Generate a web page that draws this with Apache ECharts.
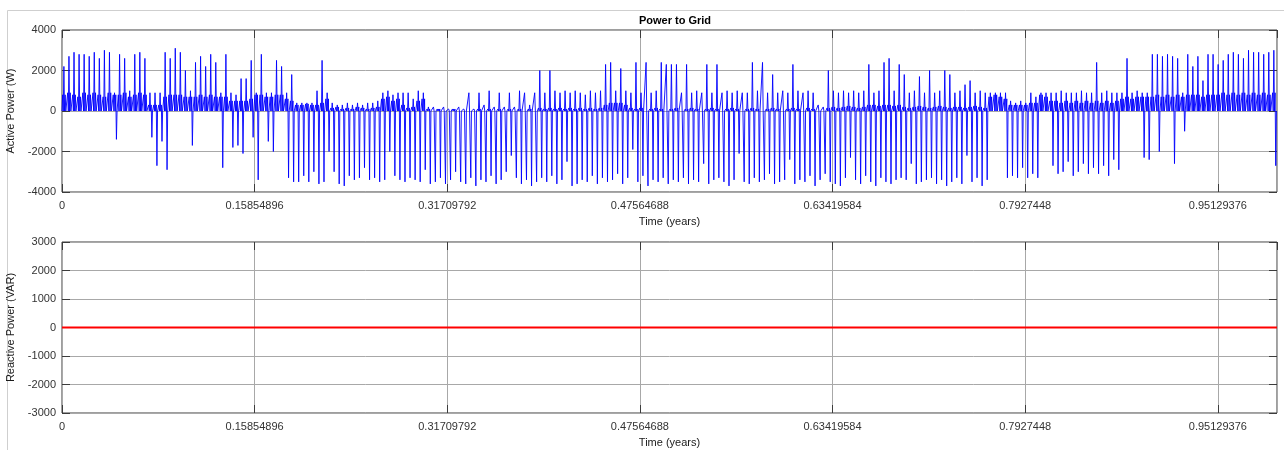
<!DOCTYPE html>
<html>
<head>
<meta charset="utf-8" />
<title>Power to Grid</title>
<script src="https://cdn.jsdelivr.net/npm/echarts@6/dist/echarts.min.js"></script>
<style>
  html, body { margin: 0; padding: 0; background: #fff; }
  #main { width: 1284px; height: 450px; }
</style>
</head>
<body>
<div id="main"></div>
<script>
    // active power in blocks of 1/240 year (about 1.5 days)
    // bandLevel = the dense everyday level, peakLevel = tallest spike, dipLevel = deepest import
    var bandLevel = [
        800, 900, 800, 700, 900, 800, 900, 800, 700, 900,
        800, 800, 900, 700, 800, 900, 800, 300, 300, 300,
        700, 800, 800, 800, 700, 700, 700, 800, 700, 800,
        700, 700, 700, 500, 500, 500, 500, 600, 800, 800,
        700, 700, 800, 800, 600, 500, 300, 300, 350, 300,
        300, 400, 600, 150, 200, 100, 150, 100, 200, 150,
        100, 150, 200, 600, 700, 500, 600, 300, 150, 200,
        500, 600, 100, 50, 100, 50, 50, 100, 50, 50,
        50, 50, 100, 50, 100, 50, 100, 50, 100, 50,
        100, 50, 100, 50, 150, 100, 150, 100, 150, 100,
        150, 100, 150, 100, 150, 100, 150, 300, 400, 400,
        400, 300, 150, 100, 150, 50, 100, 150, 100, 50,
        100, 150, 50, 100, 150, 100, 50, 100, 150, 100,
        50, 100, 150, 100, 50, 100, 150, 100, 50, 100,
        150, 100, 50, 100, 150, 100, 50, 150, 100, 50,
        50, 150, 200, 150, 200, 250, 200, 150, 200, 300,
        300, 250, 300, 300, 250, 300, 200, 150, 200, 250,
        200, 150, 200, 250, 200, 150, 200, 200, 150, 200,
        250, 200, 150, 700, 800, 700, 600, 300, 300, 300,
        300, 400, 400, 800, 700, 500, 500, 400, 500, 400,
        500, 400, 500, 400, 500, 400, 500, 400, 500, 600,
        700, 600, 700, 700, 700, 700, 800, 700, 800, 700,
        800, 700, 800, 800, 800, 700, 800, 800, 800, 900,
        800, 900, 800, 900, 800, 900, 800, 900, 800, 900
    ];

    var peakLevel = [
        2200, 2700, 2900, 2800, 2800, 2700, 2900, 2600, 3000, 2900,
        900, 2800, 2600, 1000, 2800, 2900, 2600, 900, 900, 900,
        2900, 2600, 3100, 2900, 2000, 1000, 2400, 2700, 2200, 2800,
        2400, 900, 2800, 900, 800, 1600, 1600, 2500, 900, 2800,
        900, 900, 2500, 2200, 900, 1800, 400, 400, 400, 400,
        1000, 2500, 900, 400, 300, 300, 400, 300, 400, 300,
        400, 400, 500, 900, 1000, 800, 900, 900, 900, 600,
        1000, 900, 200, 200, 100, 200, 100, 100, 200, 100,
        900, 100, 900, 300, 1000, 200, 900, 200, 900, 200,
        1000, 900, 300, 900, 2000, 900, 2000, 1000, 900, 1000,
        900, 1000, 900, 800, 1000, 900, 1000, 2300, 2400, 1000,
        2100, 1000, 900, 2400, 900, 2400, 900, 1000, 2400, 2300,
        2300, 2300, 900, 2300, 900, 1000, 900, 2300, 900, 2300,
        900, 1000, 900, 1000, 900, 900, 2400, 1000, 2400, 900,
        1800, 900, 1000, 900, 2300, 1000, 900, 1000, 900, 300,
        200, 2000, 1000, 900, 1000, 900, 1000, 900, 1000, 2300,
        900, 1000, 2400, 2600, 1000, 2300, 1800, 900, 1000, 1700,
        900, 2000, 900, 1000, 2000, 1800, 900, 1000, 1300, 1500,
        900, 1000, 900, 900, 900, 900, 900, 500, 400, 500,
        400, 900, 700, 900, 900, 900, 900, 1000, 900, 900,
        900, 1000, 900, 900, 2400, 900, 1000, 900, 900, 900,
        2600, 900, 1000, 900, 900, 2800, 2800, 2700, 2800, 2700,
        2600, 900, 2800, 2200, 2700, 1500, 2800, 2800, 2300, 2500,
        2800, 2900, 2800, 2600, 3000, 2900, 2900, 2800, 2900, 3000
    ];

    var dipLevel = [
        0, 0, 0, 0, 0, 0, 0, 0, 0, 0,
        -1400, 0, 0, 0, 0, 0, 0, -1300, -2700, -1500,
        -2900, 0, 0, 0, 0, -1700, 0, 0, 0, 0,
        0, -2800, 0, -1800, -1700, -2100, 0, -1300, -3400, 0,
        -1500, -2000, 0, 0, -3300, -3500, -3500, -3200, -3500, -3000,
        -3600, -3500, -2000, -3000, -3600, -3700, -3200, -3400, -3300, -2800,
        -3400, -3300, -3500, -3400, -2000, -3200, -3400, -3500, -3300, -3400,
        -3500, -2900, -3600, -3500, -3300, -3600, -3400, -3000, -3500, -3600,
        -3300, -3700, -3400, -3500, -3200, -3600, -3400, -3000, -2200, -3300,
        -3600, -3400, -3700, -3500, -3300, -3500, -3200, -3600, -3400, -2500,
        -3700, -3600, -3400, -3500, -3200, -3600, -3300, -3500, -3400, -3100,
        -3600, -3300, -1900, -3500, -3200, -3700, -3400, -3500, -3300, -3600,
        -3400, -3500, -3300, -3600, -3400, -3500, -2600, -3600, -3400, -3300,
        -3500, -3700, -3400, -2100, -3500, -3600, -3300, -3500, -3400, -3100,
        -3600, -3500, -3400, -2400, -3600, -3400, -3500, -3200, -3700, -3400,
        -3100, -3500, -3600, -3700, -3300, -2300, -3400, -3600, -3200, -3500,
        -3700, -3300, -3500, -3600, -3400, -3300, -3400, -2600, -3600, -3500,
        -3400, -3300, -3600, -3400, -3700, -3500, -3300, -3600, -2200, -3500,
        -3300, -3700, -3400, 0, 0, 0, -3300, -3200, -3300, -2800,
        -3300, -3100, -3300, 0, 0, -2700, -3100, -3000, -2500, -3200,
        -3000, -2600, -3100, -2800, -3100, -2700, -3200, -2400, -2900, 0,
        0, 0, 0, -2300, -2400, 0, -2000, 0, 0, -2600,
        0, -1000, 0, 0, 0, 0, 0, 0, 0, 0,
        0, 0, 0, 0, 0, 0, 0, 0, 0, -2700
    ];

    // reactive power stays on zero apart from a few tiny blips
    var reactiveTime = [0, 0.008, 0.009, 0.010, 0.036, 0.037, 0.038, 0.061, 0.062, 0.063,
        0.476, 0.477, 0.478, 0.495, 0.496, 0.497, 0.676, 0.677, 0.678,
        0.974, 0.975, 0.976, 0.981, 0.982, 0.983,
        0.987, 0.988, 0.989, 0.993, 0.994, 0.995, 0.998, 0.999, 1];
    var reactivePower = [0, 0, 40, 0, 0, 30, 0, 0, 30, 0,
        0, 40, 0, 0, 30, 0, 0, 25, 0,
        0, 35, 0, 0, 35, 0,
        0, 35, 0, 0, 35, 0, 0, 40, 0];

    var timeStep = 0.15854896;
    var timeTicks = ['0', '0.15854896', '0.31709792', '0.47564688', '0.63419584', '0.7927448', '0.95129376'];

    var font = "'Liberation Sans', Arial, Helvetica, sans-serif";

    // each block: up to band, back, up to peak, back, band again, down to dip, back
    var activeData = [];
    var n = bandLevel.length;
    var w = 1 / n;
    for (var k = 0; k < n; k++) {
        var t = k * w;
        activeData.push([t, 0]);
        activeData.push([t + w * 0.125, bandLevel[k]]);
        activeData.push([t + w * 0.25, 0]);
        activeData.push([t + w * 0.375, peakLevel[k]]);
        activeData.push([t + w * 0.5, 0]);
        activeData.push([t + w * 0.625, bandLevel[k]]);
        activeData.push([t + w * 0.75, dipLevel[k]]);
        activeData.push([t + w * 0.875, 0]);
    }
    activeData.push([1, 0]);

    var reactiveData = [];
    for (var j = 0; j < reactiveTime.length; j++) {
        reactiveData.push([reactiveTime[j], reactivePower[j]]);
    }

    function timeLabel(v) {
        var i = Math.round(v / timeStep);
        if (Math.abs(v - i * timeStep) > 1e-6 || i >= timeTicks.length) return '';
        return timeTicks[i];
    }

    var axisColor = '#3c3c3c';
    var gridColor = '#a8a8a8';

    function bottomX(gridIndex) {
        return {
            type: 'value', gridIndex: gridIndex, position: 'bottom',
            min: 0, max: 1, interval: timeStep,
            name: 'Time (years)', nameLocation: 'middle', nameGap: 24,
            nameTextStyle: { color: '#1a1a1a', fontSize: 11, fontFamily: font },
            axisLine: { show: false, onZero: false },
            axisTick: { inside: true, length: 8, lineStyle: { color: axisColor } },
            axisLabel: { formatter: timeLabel, color: '#333', fontSize: 11, fontFamily: font, margin: 8,
                showMaxLabel: false },
            splitLine: { show: true, lineStyle: { color: gridColor, width: 1 } }
        };
    }
    function topX(gridIndex) {
        return {
            type: 'value', gridIndex: gridIndex, position: 'top',
            min: 0, max: 1, interval: timeStep,
            axisLine: { show: false, onZero: false },
            axisTick: { inside: true, length: 8, lineStyle: { color: axisColor } },
            axisLabel: { show: false },
            splitLine: { show: false }
        };
    }
    function leftY(gridIndex, lim, step, title) {
        return {
            type: 'value', gridIndex: gridIndex, position: 'left',
            min: -lim, max: lim, interval: step,
            name: title, nameLocation: 'middle', nameGap: 40,
            nameTextStyle: { color: '#1a1a1a', fontSize: 11, fontFamily: font },
            axisLine: { show: false, onZero: false },
            axisTick: { show: true, inside: true, length: 8, lineStyle: { color: axisColor } },
            axisLabel: { color: '#333', fontSize: 11, fontFamily: font, margin: 6,
                formatter: function (v) { return String(v); } },
            splitLine: { show: true, lineStyle: { color: gridColor, width: 1 } }
        };
    }
    function rightY(gridIndex, lim, step) {
        return {
            type: 'value', gridIndex: gridIndex, position: 'right',
            min: -lim, max: lim, interval: step,
            axisLine: { show: false, onZero: false },
            axisTick: { show: true, inside: true, length: 8, lineStyle: { color: axisColor } },
            axisLabel: { show: false },
            splitLine: { show: false }
        };
    }

    var myChart = echarts.init(document.getElementById('main'));

    var option = {
        animation: false,
        backgroundColor: '#fff',
        title: {
            text: 'Power to Grid',
            left: 670, top: 10, textAlign: 'center',
            textStyle: { fontSize: 11, fontWeight: 'bold', color: '#000', fontFamily: font }
        },
        graphic: [{
            type: 'rect', silent: true, z: -10,
            shape: { x: 7.5, y: 10.5, width: 1300, height: 500 },
            style: { fill: 'none', stroke: '#cfcfcf', lineWidth: 1 }
        }],
        // the grid border draws the box, extra top/right axes only add tick marks
        grid: [
            { left: 62, right: 7, top: 30, height: 162, outerBoundsMode: 'none', containLabel: false,
                show: true, borderColor: axisColor, borderWidth: 1 },
            { left: 62, right: 7, top: 242, height: 171, outerBoundsMode: 'none', containLabel: false,
                show: true, borderColor: axisColor, borderWidth: 1 }
        ],
        xAxis: [bottomX(0), bottomX(1), topX(0), topX(1)],
        yAxis: [
            leftY(0, 4000, 2000, 'Active Power (W)'),
            leftY(1, 3000, 1000, 'Reactive Power (VAR)'),
            rightY(0, 4000, 2000), rightY(1, 3000, 1000)
        ],
        series: [{
            name: 'Active Power',
            type: 'line',
            xAxisIndex: 0, yAxisIndex: 0,
            data: activeData,
            showSymbol: false,
            lineStyle: { color: '#0000ff', width: 0.9 },
            itemStyle: { color: '#0000ff' },
            z: 5
        }, {
            name: 'Reactive Power',
            type: 'line',
            xAxisIndex: 1, yAxisIndex: 1,
            data: reactiveData,
            showSymbol: false,
            lineStyle: { color: '#ff0000', width: 2 },
            itemStyle: { color: '#ff0000' },
            z: 6
        }]
    };

    myChart.setOption(option);
</script>
</body>
</html>
